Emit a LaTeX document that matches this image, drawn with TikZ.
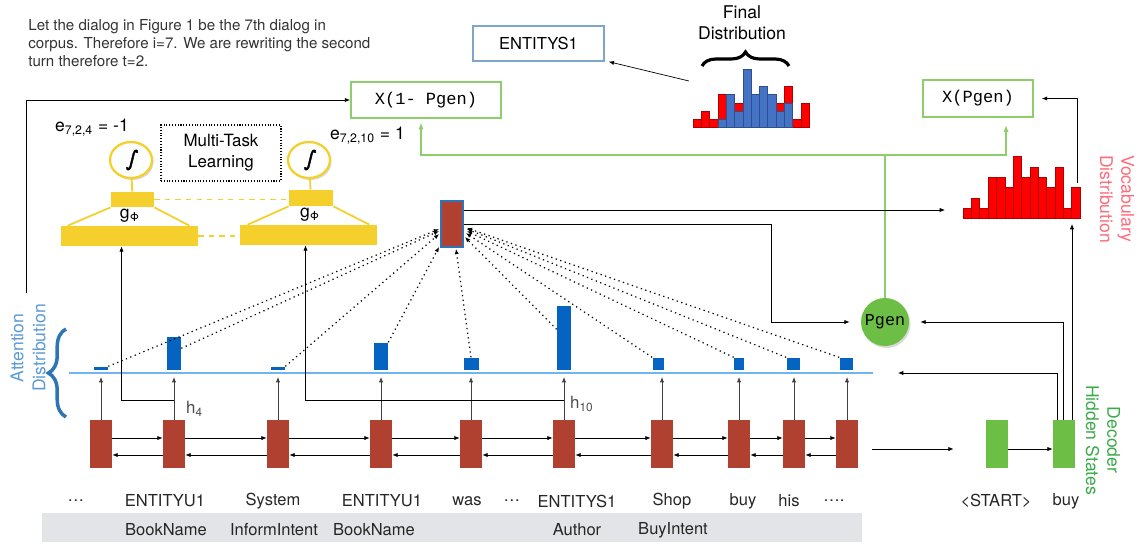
\documentclass[tikz,border=0pt]{standalone}
\usepackage{fontspec}
\setmainfont{TeX Gyre Heros}
\setmonofont{Liberation Mono}
\newfontfamily\intfont[FakeSlant=0.2,FakeBold=2]{DejaVu Sans}
\usetikzlibrary{arrows.meta,calc,decorations.pathreplacing,shadows,shapes.geometric}

\definecolor{encred}{HTML}{B0402F}
\definecolor{decgreen}{HTML}{6CBE45}
\definecolor{attblue}{HTML}{0563C1}
\definecolor{ylw}{HTML}{F5D02C}
\definecolor{boxgreen}{HTML}{8DCD6A}
\definecolor{lineblue}{HTML}{70B4F0}
\definecolor{braceblue}{HTML}{2E75B6}
\definecolor{lblblue}{HTML}{5B9BD5}
\definecolor{lblgreen}{HTML}{3BAA4B}
\definecolor{lblred}{HTML}{FF6B7A}
\definecolor{histblue}{HTML}{4472C4}
\definecolor{bandgrey}{HTML}{E3E4E7}
\definecolor{entblue}{HTML}{7EA6CC}

\tikzset{
  tip/.style={-{Latex[length=3pt,width=2.4pt]}},
  enc/.style={fill=encred, minimum width=22*0.02cm, minimum height=48*0.02cm, inner sep=0pt},
  dec/.style={enc, fill=decgreen},
  att/.style={fill=attblue, anchor=south, inner sep=0pt},
  word/.style={font=\fontsize{9.4}{11}\selectfont, text=black!85},
  gbox/.style={draw=boxgreen, line width=1pt, font=\ttfamily\fontsize{9.7}{11}\selectfont},
  ybox/.style={fill=ylw, inner sep=0pt},
  yline/.style={ylw, line width=1pt},
  sigma/.style={ellipse, draw=ylw, line width=1.3pt, fill=white, minimum width=42*0.02cm, minimum height=36*0.02cm,
    inner sep=0pt, font=\intfont\fontsize{12}{12}\selectfont,
    drop shadow={opacity=0.3, shadow xshift=0.03cm, shadow yshift=-0.04cm}},
  attn/.style={tip, dotted, line width=0.7pt},
  glink/.style={boxgreen, line width=1pt, -{Latex[length=4pt,width=3pt]}},
}

\begin{document}
\begin{tikzpicture}[x=0.02cm, y=-0.02cm]
  \useasboundingbox (0,0) rectangle (1139,545);

  \node[anchor=north west, align=left, inner sep=0pt, font=\fontsize{8.6}{10.2}\selectfont, text=black!80] (note) at (28,19)
    {Let the dialog in Figure 1 be the 7th dialog in\\corpus. Therefore i=7. We are rewriting the second\\turn therefore t=2.};

  % tags band
  \fill[bandgrey] (42,513) rectangle (862,542);

  % encoder and decoder states
  \foreach \n/\x in {1/101,2/174,3/278,4/381,5/471,6/564,7/662,8/739,9/794,10/847}
    \node[enc] (e\n) at (\x,444) {};
  \node[dec] (d1) at (997,444) {};
  \node[dec] (d2) at (1064,444) {};

  \foreach \a/\b in {1/2,2/3,3/4,4/5,5/6,6/7,7/8,8/9,9/10} {
    \draw[tip] ([yshift=0.12cm]e\a.east) -- ([yshift=0.12cm]e\b.west);
    \draw[tip] ([yshift=-0.22cm]e\b.west) -- ([yshift=-0.22cm]e\a.east);
  }
  \draw[tip, shorten <=0.28cm, shorten >=0.64cm] ([yshift=-0.1cm]e10.east) -- ([yshift=-0.1cm]d1.west);
  \draw[tip] ([yshift=-0.1cm]d1.east) -- ([yshift=-0.1cm]d2.west);

  % attention distribution
  \coordinate (attL) at (69,373);
  \coordinate (attR) at (873,373);
  \coordinate (attB) at (0,377);
  \draw[lineblue, line width=0.8pt] (attL) -- (attR);
  \foreach \n/\x/\h/\w in {1/101/3/14,2/174/33/14,3/278/3/14,4/381/27/14,5/471/12/15,
                           6/564/64/14,7/658/12/11,8/739/12/10,9/793/12/13,10/846/12/13}
    \node[att, minimum height=\h*0.02cm, minimum width=\w*0.02cm] (a\n) at (\x,370) {};
  \foreach \n in {1,...,10}
    \draw[tip, black!75] (e\n.north) -- (e\n.north |- attB);

  \node[rotate=90, align=center, text=lblblue, font=\fontsize{10}{12.5}\selectfont] (attlbl) at (28,348) {Attention\\Distribution};
  \draw[braceblue, line width=2pt, decorate, decoration={brace, amplitude=10pt}] (66,417) -- (66,329);

  % context vector
  \node[fill=encred, draw=braceblue, line width=1pt, minimum width=22*0.02cm, minimum height=46*0.02cm, inner sep=0pt] (ctx) at (452,224) {};
  \draw[attn] (a1.north east) -- ($(ctx.west)+(-1,5)$);
  \draw[attn] ($(a2.north east)+(0,12)$) -- ($(ctx.west)+(-1,7)$);
  \draw[attn] (a3.north east) -- ($(ctx.west)+(-1,10)$);
  \draw[attn] (a4.north east) -- ($(ctx.south west)+(-1,-1)$);
  \draw[attn] (a5.north) -- ($(ctx.south)+(4,1)$);
  \draw[attn] ($(a6.north west)+(0,24)$) -- ($(ctx.east)+(1,13)$);
  \draw[attn] (a7.north west) -- ($(ctx.east)+(2,9)$);
  \draw[attn] (a8.north west) -- ($(ctx.east)+(3,7)$);
  \draw[attn] (a9.north west) -- ($(ctx.east)+(3,5)$);
  \draw[attn] (a10.north west) -- ($(ctx.east)+(3,4)$);

  % multi-task branch
  \node[ybox, minimum width=43*0.02cm, minimum height=15*0.02cm] (ys1) at (132.5,199.5) {};
  \node[ybox, minimum width=137*0.02cm, minimum height=20*0.02cm] (yb1) at (129.5,236) {};
  \node[ybox, minimum width=44*0.02cm, minimum height=16*0.02cm] (ys2) at (311,198) {};
  \node[ybox, minimum width=137*0.02cm, minimum height=20*0.02cm] (yb2) at (308.5,235) {};
  \draw[yline] (ys1.south west) -- ($(yb1.north west)+(7,0)$);
  \draw[yline] (ys1.south east) -- ($(yb1.north east)+(-9,0)$);
  \draw[yline] (ys2.south west) -- ($(yb2.north west)+(8,0)$);
  \draw[yline] (ys2.south east) -- ($(yb2.north east)+(-8,0)$);
  \draw[yline, dashed] (ys1.east) -- (ys1.east -| ys2.west);
  \draw[yline, dashed] (yb1.east) -- (yb1.east -| yb2.west);
  \node[font=\fontsize{10}{12}\selectfont] (g1) at (130,216) {g\textsubscript{Φ}};
  \node[font=\fontsize{10}{12}\selectfont] (g2) at (310,215) {g\textsubscript{Φ}};
  \node[sigma] (s1) at (131,160) {∫};
  \node[sigma] (s2) at (309,160) {∫};
  \draw[yline] (s1) -- (ys1);
  \draw[yline] (s2) -- (ys2);
  \node[anchor=west, font=\fontsize{10}{12}\selectfont] (elbl1) at (49,128) {e\textsubscript{7,2,4} = -1};
  \node[anchor=west, font=\fontsize{10}{12}\selectfont] (elbl2) at (324,136) {e\textsubscript{7,2,10} = 1};
  \node[draw, densely dotted, semithick, minimum width=120*0.02cm, minimum height=56*0.02cm, align=center,
        font=\fontsize{9.6}{12}\selectfont] (mtl) at (221,153) {Multi-Task\\Learning};

  \coordinate (h4) at (174,400);
  \coordinate (h10) at (564,400);
  \draw[tip] (h4) -| ($(yb1.south)+(-8,0)$);
  \draw[tip] (h10) -| ($(yb2.south)+(-3,0)$);
  \node[anchor=west, text=black!70, font=\fontsize{9.6}{11}\selectfont] (h4lbl) at (180,409) {h\textsubscript{4}};
  \node[anchor=west, text=black!70, font=\fontsize{9.6}{11}\selectfont] (h10lbl) at (564,404) {h\textsubscript{10}};

  % copy / generate switch
  \node[gbox, minimum width=150*0.02cm, minimum height=36*0.02cm] (xneg) at (426,100) {X(1- Pgen)};
  \node[gbox, minimum width=110*0.02cm, minimum height=37*0.02cm] (xpos) at (978,98.5) {X(Pgen)};
  \node[circle, fill=decgreen, minimum size=48*0.02cm, inner sep=0pt, font=\ttfamily\fontsize{9.5}{11}\selectfont,
        drop shadow={opacity=0.3, shadow xshift=0.03cm, shadow yshift=-0.04cm}] (pgen) at (885,322) {Pgen};
  \node[draw=entblue, line width=0.8pt, minimum width=131*0.02cm, minimum height=35*0.02cm,
        font=\fontsize{9.4}{11}\selectfont] (out) at (538.5,43.5) {ENTITYS1};

  \coordinate (gsplit) at (885,155);
  \draw[boxgreen, line width=1pt] (pgen.north) -- (gsplit);
  \draw[glink, shorten >=2pt] (gsplit) -| ($(xneg.south)+(-5,0)$);
  \draw[glink, shorten >=4pt] (gsplit) -| ($(xpos.south)+(28,0)$);

  \coordinate (bypass) at (26,293);
  \draw[tip] (bypass) |- (xneg.west);
  \coordinate (bend) at (771,322);
  \draw[tip, shorten >=0.22cm] (ctx.east) -| (bend) -- (pgen.west);
  \coordinate (vocIn) at (945,210);
  \draw[tip] ($(ctx.east)+(0,-14)$) -- (vocIn);

  % vocabulary distribution
  \foreach \i/\t in {0/208,1/198,2/208,3/177,4/177,5/187,6/156,7/177,8/167,9/177,10/187,11/167,12/208,13/187}
    \draw[fill=red, draw=red!70!black, line width=0.3pt] ({963+8.36*\i},218) rectangle ({963+8.36*(\i+1)},\t);
  \node[rotate=-90, align=center, text=lblred, font=\fontsize{10}{12}\selectfont] (voclbl) at (1117,199) {Vocabulary\\Distribution};

  \coordinate (vocOut) at (1077,183);
  \coordinate (vocBot) at (1072,224);
  \coordinate (attBack) at (898,373);
  \draw[tip] (vocOut) |- ($(xpos.east)+(8,0)$);
  \draw[tip] ($(d2.north)+(8,0)$) -- (vocBot);
  \draw[tip, shorten >=0.22cm] ($(d2.north)+(-1,0)$) |- (pgen.east);
  \draw[tip] ($(d2.north)+(-7,0)$) |- (attBack);
  \node[rotate=-90, align=center, text=lblgreen, font=\fontsize{10}{12}\selectfont] (declbl) at (1103,440) {Decoder\\Hidden States};

  % final distribution
  \foreach \i/\t in {0/119,1/111,2/119,3/94,5/103,10/103,11/86,12/119,13/103}
    \draw[fill=red, draw=red!70!black, line width=0.3pt] ({693+8.3*\i},127) rectangle ({693+8.3*(\i+1)},\t);
  \foreach \i/\t in {3/119,4/94,5/111,6/69,7/94,8/86,9/94,10/111,11/103}
    \draw[fill=histblue, draw=histblue!70!black, line width=0.3pt] ({693+8.3*\i},127) rectangle ({693+8.3*(\i+1)},\t);
  \draw[line width=1.8pt, decorate, decoration={brace, amplitude=8pt}] (702,66) -- (789,66);
  \node[align=center, font=\fontsize{10}{12}\selectfont] (flbl) at (742,23) {Final\\Distribution};
  \coordinate (fdist) at (689,81);
  \draw[tip] (fdist) -- ($(out.south east)+(4,0)$);

  % tokens and tags
  \foreach \n/\x/\t in {1/76/…,2/165/ENTITYU1,3/273/System,4/382/ENTITYU1,5/467/was,6/512/…,7/577/ENTITYS1,
                        8/672/Shop,9/743/buy,10/789/his,11/834/….,12/996/<START>,13/1066/buy}
    \node[word] (w\n) at (\x,501) {\t};
  \foreach \n/\x/\t in {1/166/BookName,2/274/InformIntent,3/374/BookName,4/577/Author,5/673/BuyIntent}
    \node[word] (tag\n) at (\x,530) {\t};
\end{tikzpicture}
\end{document}
